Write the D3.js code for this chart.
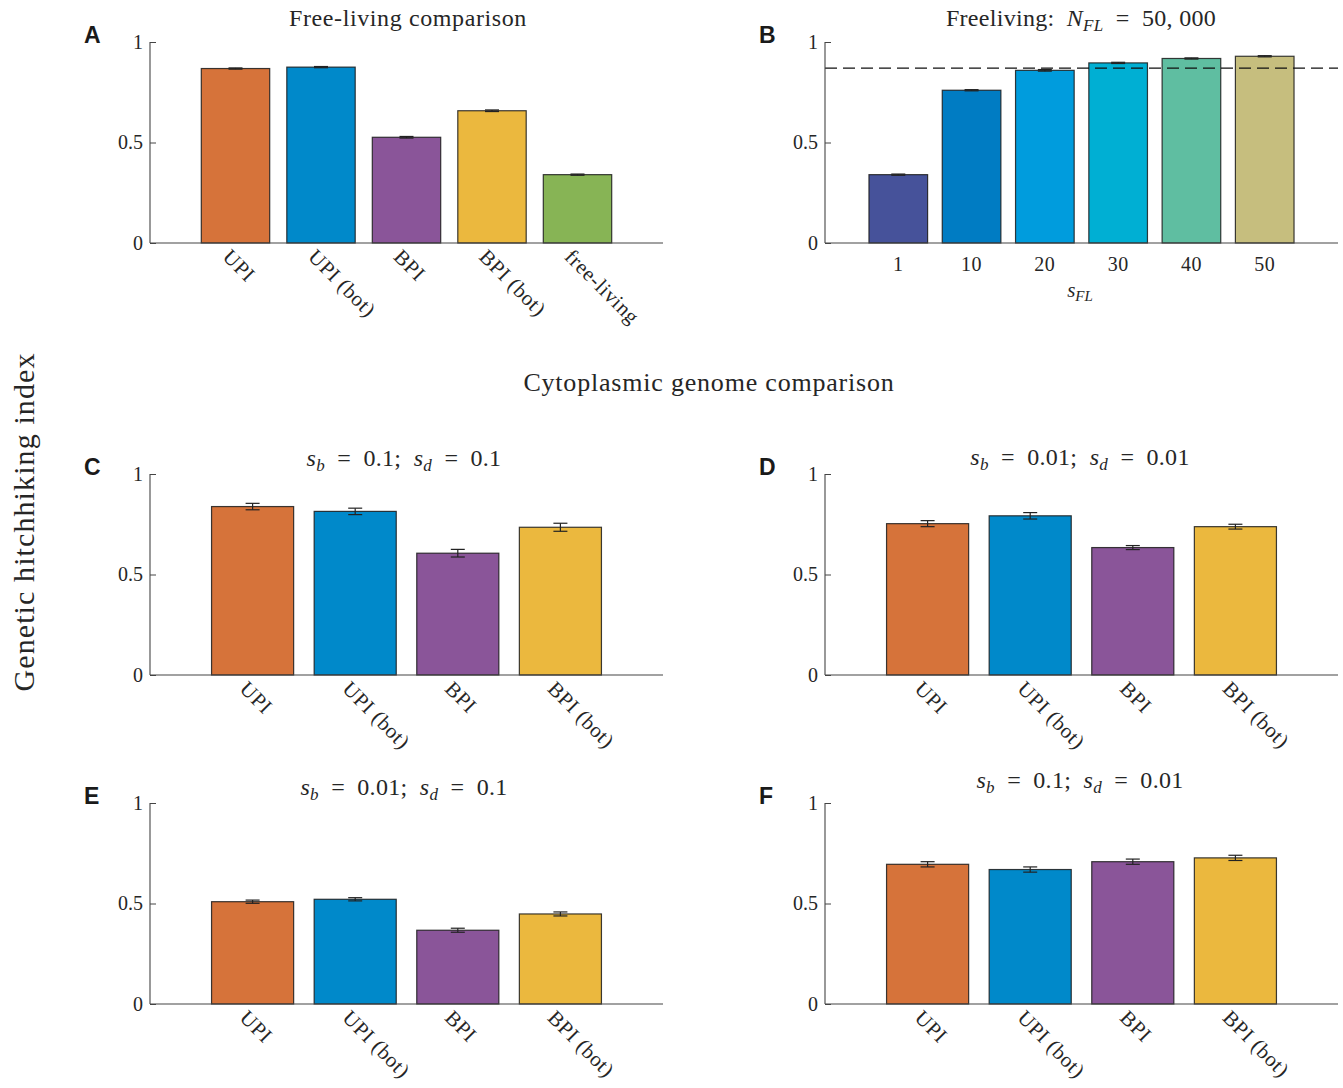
<!DOCTYPE html>
<html>
<head>
<meta charset="utf-8">
<script src="https://cdn.jsdelivr.net/npm/d3@7"></script>
<style>
  body { margin: 0; background: #fff; }
  svg text { font-family: "Liberation Serif", "Times New Roman", serif; fill: #262626; }
  .lbl { font-family: "Liberation Sans", Arial, sans-serif !important; font-weight: bold; fill: #1a1a1a; }
</style>
</head>
<body>
<div id="chart"></div>
<script>
// ---- data ----
var catsCyto = ["UPI", "UPI (bot)", "BPI", "BPI (bot)"];
var catsA = ["UPI", "UPI (bot)", "BPI", "BPI (bot)", "free-living"];
var valsA = [0.868, 0.875, 0.526, 0.658, 0.340];
var errA = [0.003, 0.003, 0.004, 0.004, 0.003];

var catsB = ["1", "10", "20", "30", "40", "50"];
var valsB = [0.340, 0.760, 0.859, 0.896, 0.918, 0.929];
var errB = [0.003, 0.003, 0.004, 0.003, 0.003, 0.003];
var refB = 0.870; // dashed line = UPI value

var valsC = [0.838, 0.814, 0.606, 0.735];
var errC = [0.016, 0.016, 0.019, 0.020];
var valsD = [0.753, 0.792, 0.634, 0.738];
var errD = [0.015, 0.016, 0.010, 0.012];
var valsE = [0.509, 0.521, 0.367, 0.448];
var errE = [0.008, 0.008, 0.010, 0.010];
var valsF = [0.695, 0.669, 0.708, 0.727];
var errF = [0.013, 0.013, 0.013, 0.013];

var yTicks = [0, 0.5, 1];
var yTickLabels = ["0", "0.5", "1"];

var colsMain = ["#d6733a", "#0089ca", "#8a5599", "#ebb83e", "#87b455"];
var colsB = ["#46529a", "#007cc3", "#009cdd", "#00afd3", "#5fbea1", "#c6be7e"];

var width = 1343, height = 1088;
var svg = d3.select("#chart").append("svg")
    .attr("width", width)
    .attr("height", height);

var EQ = "\u2002=\u2002";

// titles as pieces: [text, italic?, subscript?, back-to-baseline?]
function drawTitle(x, y, parts, size, spacing) {
    var t = svg.append("text")
        .attr("x", x).attr("y", y)
        .attr("text-anchor", "middle")
        .style("font-size", (size || 24) + "px")
        .style("letter-spacing", (spacing || 0.3) + "px");
    parts.forEach(function(p) {
        var ts = t.append("tspan").text(p[0]);
        if (p[1]) ts.style("font-style", "italic");
        if (p[2]) ts.attr("dy", 5).style("font-size", "17px");
        if (p[3]) ts.attr("dy", -5);
    });
}

function barPanel(p) {
    var n = p.cats.length;
    var x = d3.scaleLinear().domain([0, n + 1]).range([p.left, p.right]);
    var y = d3.scaleLinear().domain([0, 1]).range([p.bottom, p.top]);
    var g = svg.append("g");
    var bw = x(0.8) - x(0);

    // bars
    g.selectAll("rect.bar")
        .data(p.vals)
        .enter().append("rect")
        .attr("class", "bar")
        .attr("x", function(d, i) { return x(i + 1) - bw / 2; })
        .attr("y", function(d) { return y(d); })
        .attr("width", bw)
        .attr("height", function(d) { return y(0) - y(d); })
        .attr("fill", function(d, i) { return p.colors[i]; })
        .attr("stroke", "#1a1a1a")
        .attr("stroke-opacity", 0.85)
        .attr("stroke-width", 1.2);

    // dashed reference
    if (p.ref != null) {
        g.append("line")
            .attr("x1", p.left).attr("x2", p.right)
            .attr("y1", y(p.ref)).attr("y2", y(p.ref))
            .attr("stroke", "#111")
            .attr("stroke-width", 1.3)
            .attr("stroke-dasharray", "12,6");
    }

    // error bars
    var eb = g.selectAll("g.err").data(p.vals).enter().append("g");
    var cap = 7;
    eb.append("line")
        .attr("x1", function(d, i) { return x(i + 1); })
        .attr("x2", function(d, i) { return x(i + 1); })
        .attr("y1", function(d, i) { return y(d - p.errs[i]); })
        .attr("y2", function(d, i) { return y(d + p.errs[i]); });
    eb.append("line")
        .attr("x1", function(d, i) { return x(i + 1) - cap; })
        .attr("x2", function(d, i) { return x(i + 1) + cap; })
        .attr("y1", function(d, i) { return y(d - p.errs[i]); })
        .attr("y2", function(d, i) { return y(d - p.errs[i]); });
    eb.append("line")
        .attr("x1", function(d, i) { return x(i + 1) - cap; })
        .attr("x2", function(d, i) { return x(i + 1) + cap; })
        .attr("y1", function(d, i) { return y(d + p.errs[i]); })
        .attr("y2", function(d, i) { return y(d + p.errs[i]); });
    eb.selectAll("line").attr("stroke", "#222").attr("stroke-width", 1.2);

    // axes
    var yAxis = d3.axisLeft(y).tickValues(yTicks).tickSize(-6).tickPadding(7)
        .tickFormat(function(d, i) { return yTickLabels[i]; });
    var ya = svg.append("g").attr("transform", "translate(" + p.left + ",0)").call(yAxis);
    ya.select(".domain").remove();
    ya.selectAll("line").attr("stroke", "#444");
    ya.selectAll("text").style("font-size", "20px").attr("fill", "#333")
        .style("font-family", "'Liberation Serif', serif");
    g.append("line").attr("x1", p.left).attr("x2", p.left)
        .attr("y1", p.top).attr("y2", p.bottom).attr("stroke", "#444").attr("stroke-width", 1.1);
    g.append("line").attr("x1", p.left).attr("x2", p.right)
        .attr("y1", p.bottom).attr("y2", p.bottom).attr("stroke", "#444").attr("stroke-width", 1.1);

    // x labels
    if (p.rotate) {
        g.selectAll("text.xl").data(p.cats).enter().append("text")
            .attr("class", "xl")
            .attr("transform", function(d, i) {
                return "translate(" + (x(i + 1) - 14) + "," + (p.bottom + 15) + ") rotate(45)";
            })
            .style("font-size", "21px")
            .style("letter-spacing", "0.6px")
            .attr("fill", "#333")
            .text(function(d) { return d; });
    } else {
        g.selectAll("text.xl").data(p.cats).enter().append("text")
            .attr("class", "xl")
            .attr("x", function(d, i) { return x(i + 1); })
            .attr("y", p.bottom + 28)
            .attr("text-anchor", "middle")
            .style("font-size", "20px")
            .style("letter-spacing", "0.5px")
            .attr("fill", "#333")
            .text(function(d) { return d; });
    }

    // panel letter
    svg.append("text").attr("class", "lbl")
        .attr("x", p.left - 66).attr("y", p.top + 1)
        .style("font-size", "23px")
        .text(p.letter);
}

barPanel({ letter: "A", cats: catsA, vals: valsA, errs: errA, colors: colsMain,
    left: 150, right: 663, top: 42, bottom: 243, rotate: true });
barPanel({ letter: "B", cats: catsB, vals: valsB, errs: errB, colors: colsB, ref: refB,
    left: 825, right: 1338, top: 42, bottom: 243, rotate: false });
barPanel({ letter: "C", cats: catsCyto, vals: valsC, errs: errC, colors: colsMain,
    left: 150, right: 663, top: 474, bottom: 675, rotate: true });
barPanel({ letter: "D", cats: catsCyto, vals: valsD, errs: errD, colors: colsMain,
    left: 825, right: 1338, top: 474, bottom: 675, rotate: true });
barPanel({ letter: "E", cats: catsCyto, vals: valsE, errs: errE, colors: colsMain,
    left: 150, right: 663, top: 803, bottom: 1004, rotate: true });
barPanel({ letter: "F", cats: catsCyto, vals: valsF, errs: errF, colors: colsMain,
    left: 825, right: 1338, top: 803, bottom: 1004, rotate: true });

// titles
drawTitle(408, 26, [["Free-living comparison"]], 24, 0.6);
drawTitle(1081, 26, [["Freeliving:\u2002"], ["N", true], ["FL", true, true], [EQ + "50, 000", false, false, true]]);
drawTitle(709, 391, [["Cytoplasmic genome comparison"]], 26, 0.8);
drawTitle(404, 466, [["s", true], ["b", true, true], [EQ + "0.1;\u2002", false, false, true], ["s", true], ["d", true, true], [EQ + "0.1", false, false, true]]);
drawTitle(1080, 465, [["s", true], ["b", true, true], [EQ + "0.01;\u2002", false, false, true], ["s", true], ["d", true, true], [EQ + "0.01", false, false, true]]);
drawTitle(404, 795, [["s", true], ["b", true, true], [EQ + "0.01;\u2002", false, false, true], ["s", true], ["d", true, true], [EQ + "0.1", false, false, true]]);
drawTitle(1080, 788, [["s", true], ["b", true, true], [EQ + "0.1;\u2002", false, false, true], ["s", true], ["d", true, true], [EQ + "0.01", false, false, true]]);

// x label for B
var xl = svg.append("text").attr("x", 1080).attr("y", 297).attr("text-anchor", "middle")
    .style("font-size", "21px").attr("fill", "#444");
xl.append("tspan").text("s").style("font-style", "italic");
xl.append("tspan").text("FL").style("font-style", "italic").style("font-size", "15px").attr("dy", 4);

// shared y label
svg.append("text")
    .attr("transform", "translate(34,522) rotate(-90)")
    .attr("text-anchor", "middle")
    .style("font-size", "30px")
    .style("letter-spacing", "1.1px")
    .attr("fill", "#333")
    .text("Genetic hitchhiking index");
</script>
</body>
</html>
